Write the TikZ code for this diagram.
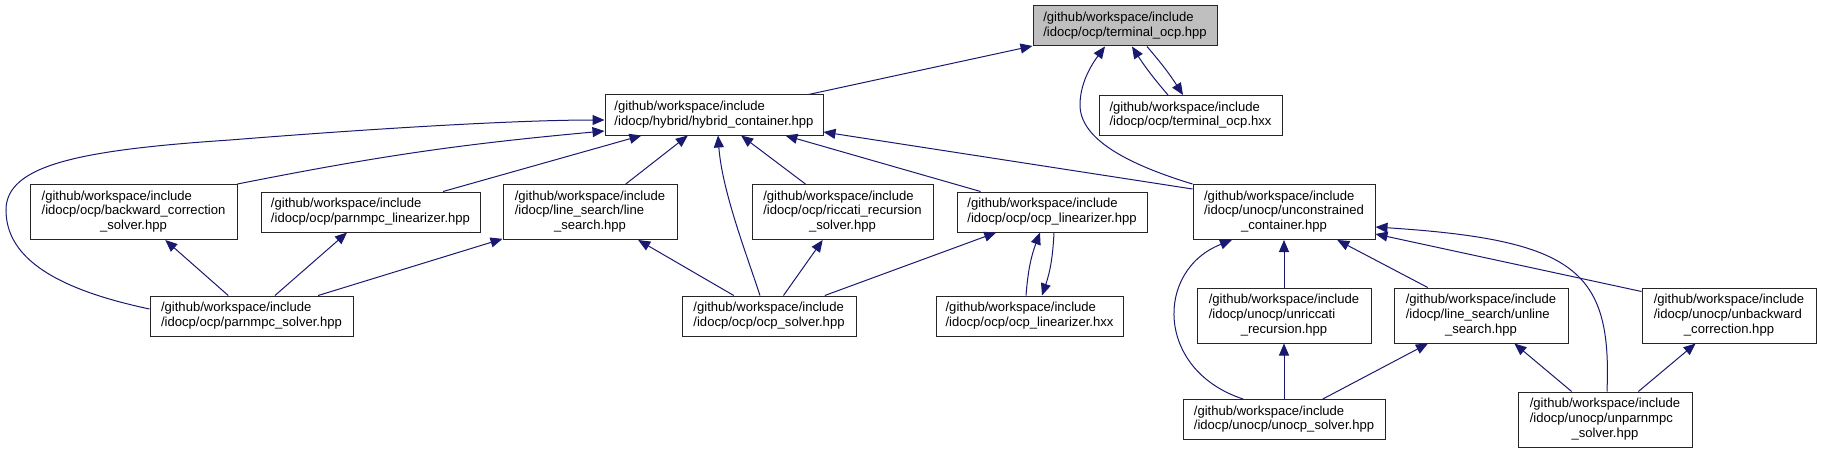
\documentclass[tikz,border=0pt]{standalone}
\usepackage{fontspec}
\setmainfont{Liberation Sans}
\usetikzlibrary{calc,positioning,arrows.meta}
\definecolor{edgeblue}{HTML}{191970}
\definecolor{rootgray}{HTML}{BFBFBF}
\newcommand{\gw}{/github/workspace/include}
\newcommand{\lbltwo}[2]{\begin{tabular}{@{}l@{}}#1\\#2\end{tabular}}
\newcommand{\lblthree}[3]{\begin{tabular}{@{}l@{}}#1\\#2\\\multicolumn{1}{@{}c@{}}{#3}\end{tabular}}

\begin{document}
\begin{tikzpicture}[x=0.75pt,y=-0.75pt,every node/.style={draw=black!85,fill=white,line width=0.75pt,inner sep=1pt,minimum height=30pt,font=\fontsize{9.8}{11}\selectfont},
  tall/.style={minimum height=41.25pt},wd/.style={minimum width=#1*0.75pt},
  inc/.style={draw=edgeblue,line width=0.75pt,-{Triangle[length=9pt,width=7.5pt]}}]
     \useasboundingbox (0,0) rectangle (1821,453);
     \node at (1125,26)[fill=rootgray,wd=184](term){\lbltwo{\gw}{/idocp/ocp/terminal\_ocp.hpp}};
     \node at ($(term)+(-411,89)$)[wd=218](hyb){\lbltwo{\gw}{/idocp/hybrid/hybrid\_container.hpp}};
     \node at ($(term)+(65.5,89.5)$)[wd=183](termx){\lbltwo{\gw}{/idocp/ocp/terminal\_ocp.hxx}};
     \node at ($(hyb)+(-580.5,97)$)[tall,wd=207](bwd){\lblthree{\gw}{/idocp/ocp/backward\_correction}{\_solver.hpp}};
     \node at ($(hyb)+(-343.5,97)$)[wd=219](plin){\lbltwo{\gw}{/idocp/ocp/parnmpc\_linearizer.hpp}};
     \node at ($(hyb)+(-124,97)$)[tall,wd=174](ls){\lblthree{\gw}{/idocp/line\_search/line}{\_search.hpp}};
     \node at ($(hyb)+(128.5,97)$)[tall,wd=181](ric){\lblthree{\gw}{/idocp/ocp/riccati\_recursion}{\_solver.hpp}};
     \node at ($(hyb)+(338,97)$)[wd=190](olin){\lbltwo{\gw}{/idocp/ocp/ocp\_linearizer.hpp}};
     \node at ($(hyb)+(570,97)$)[tall,wd=182](unc){\lblthree{\gw}{/idocp/unocp/unconstrained}{\_container.hpp}};
     \node at ($(plin)+(-119,104)$)[wd=203](psol){\lbltwo{\gw}{/idocp/ocp/parnmpc\_solver.hpp}};
     \node at ($(ric)+(-73.5,104)$)[wd=174](osol){\lbltwo{\gw}{/idocp/ocp/ocp\_solver.hpp}};
     \node at ($(olin)+(-22.5,104)$)[wd=187](olinx){\lbltwo{\gw}{/idocp/ocp/ocp\_linearizer.hxx}};
     \node at ($(unc)+(0,103.5)$)[tall,wd=174](unric){\lblthree{\gw}{/idocp/unocp/unriccati}{\_recursion.hpp}};
     \node at ($(unc)+(197,103.5)$)[tall,wd=174](unls){\lblthree{\gw}{/idocp/line\_search/unline}{\_search.hpp}};
     \node at ($(unc)+(445,103.5)$)[tall,wd=174](unbwd){\lblthree{\gw}{/idocp/unocp/unbackward}{\_correction.hpp}};
     \node at ($(unric)+(0,104)$)[wd=202](unsol){\lbltwo{\gw}{/idocp/unocp/unocp\_solver.hpp}};
     \node at ($(unls)+(124,104)$)[tall,wd=174](unpsol){\lblthree{\gw}{/idocp/unocp/unparnmpc}{\_solver.hpp}};
     % top part
     \draw[inc](hyb)--(term);
     \draw[inc]($(termx.north)+(-22.5,0)$) to[bend left=4] ($(term.south)+(7,0)$);
     \draw[inc]($(term.south)+(22,0)$) to[bend left=4] ($(termx.north)+(-7.5,0)$);
     \draw[inc](unc.north west) .. controls (1130,165) and (1080,140) .. (1080,105) .. controls (1080,80) and (1095,60) .. ($(term.south)+(-20,0)$);
     % into hybrid_container
     \draw[inc]($(psol.west)+(0,-7)$) .. controls (60,290) and (6,260) .. (6,210) .. controls (6,165) and (80,150) .. (230,140) .. controls (380,128) and (520,120) .. ($(hyb.west)+(0,5)$);
     \draw[inc](bwd.north east) to[bend left=3] ($(hyb.west)+(0,16)$);
     \draw[inc](plin)--(hyb);
     \draw[inc](ls)--(hyb);
     \draw[inc]($(osol.north)+(-9,0)$) .. controls (745,250) and (722,190) .. ($(hyb.south)+(4,0)$);
     \draw[inc](ric)--(hyb);
     \draw[inc](olin)--(hyb);
     \draw[inc]($(unc.north west)+(0,5)$)--($(hyb.east)+(0,17)$);
     % ocp side
     \draw[inc](psol)--(bwd);
     \draw[inc](psol)--(plin);
     \draw[inc](psol)--(ls);
     \draw[inc](osol)--(ls);
     \draw[inc](osol)--(ric);
     \draw[inc](osol)--(olin);
     \draw[inc]($(olinx.north)+(-3.5,0)$) to[bend left=8] ($(olin.south)+(-12,0)$);
     \draw[inc]($(olin.south)+(2,0)$) to[bend left=8] ($(olinx.north)+(12.5,0)$);
     % unocp side
     \draw[inc](unric)--(unc);
     \draw[inc]($(unsol.north)+(-41,0)$) .. controls (1155,370) and (1155,270) .. ($(unc.south)+(-52,0)$);
     \draw[inc](unsol)--(unric);
     \draw[inc](unsol)--(unls);
     \draw[inc](unls)--(unc);
     \draw[inc]($(unbwd.north west)+(0,4)$)--($(unc.east)+(0,22)$);
     \draw[inc]($(unpsol.north)+(2,0)$) .. controls (1612,270) and (1575,240) .. ($(unc.east)+(0,15)$);
     \draw[inc](unpsol)--(unls);
     \draw[inc](unpsol)--(unbwd);
\end{tikzpicture}
\end{document}
